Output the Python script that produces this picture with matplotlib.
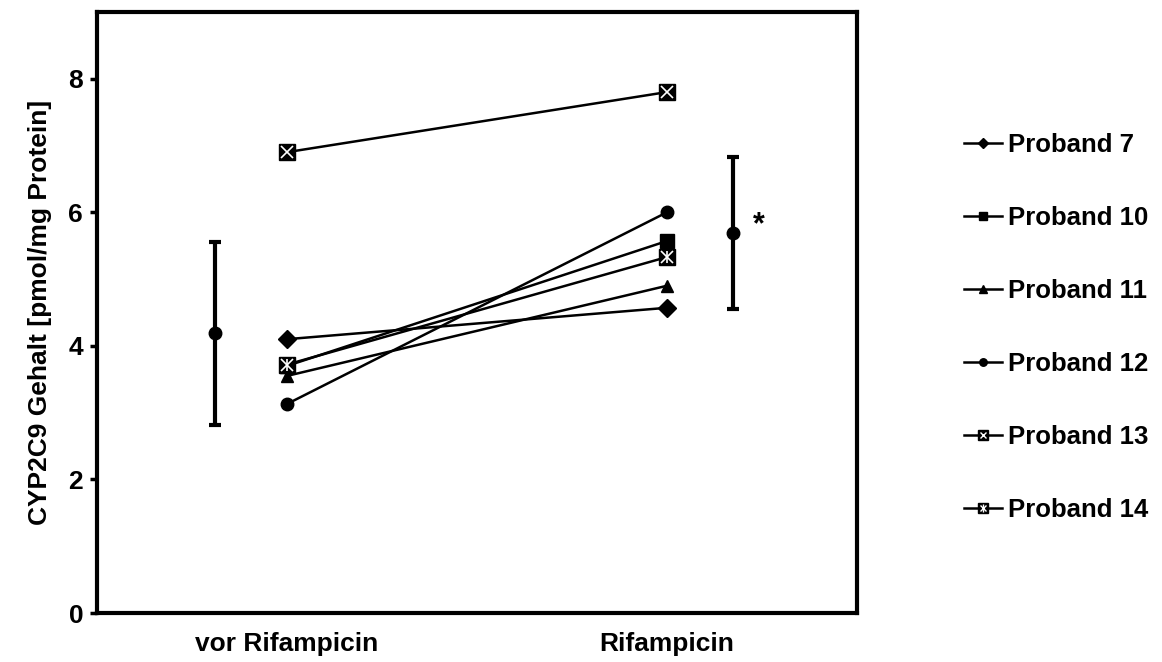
import matplotlib.pyplot as plt
from matplotlib.lines import Line2D
from matplotlib.legend_handler import HandlerTuple

plt.rcParams['font.family'] = ['Liberation Sans', 'DejaVu Sans']
plt.rcParams['font.weight'] = 'bold'

categories = ['vor Rifampicin', 'Rifampicin']
probanden = ['Proband 7', 'Proband 10', 'Proband 11', 'Proband 12', 'Proband 13', 'Proband 14']
vor = [4.10, 3.70, 3.55, 3.13, 6.90, 3.72]
nach = [4.57, 5.57, 4.90, 6.00, 7.80, 5.33]
markers = ['D', 's', '^', 'o', 's', 's']
overlay = [None, None, None, None, 'x', 'star']

mean_vor, sd_vor = 4.19, 1.37
mean_nach, sd_nach = 5.69, 1.14

fig = plt.figure(figsize=(11.62, 6.62), dpi=100)
ax = fig.add_axes([0.0835, 0.074, 0.654, 0.908])

x = [1, 2]
sizes = {'D': 9, 's': 10, '^': 9, 'o': 9}
handles = []
for name, a, b, m, ov in zip(probanden, vor, nach, markers, overlay):
    ms = sizes[m] if ov is None else 12
    ax.plot(x, [a, b], color='black', lw=1.8, marker=m, ms=ms, mfc='black', mec='black', zorder=3)
    h = Line2D([], [], color='black', lw=1.8, marker=m, ms=ms * 0.6, mfc='black', mec='black')
    if ov is None:
        handles.append(h)
        continue
    ax.plot(x, [a, b], ls='none', marker='x', ms=8, mec='white', mew=1.2, zorder=4)
    hx = Line2D([], [], ls='none', marker='x', ms=5, mec='white', mew=1)
    parts = [h, hx]
    if ov == 'star':
        ax.plot(x, [a, b], ls='none', marker='|', ms=9, mec='white', mew=1.2, zorder=4)
        parts.append(Line2D([], [], ls='none', marker='|', ms=6, mec='white', mew=1))
    handles.append(tuple(parts))

# Mittelwert +/- SD
ax.errorbar([0.81, 2.174], [mean_vor, mean_nach], yerr=[sd_vor, sd_nach], fmt='o', color='black',
            ms=9, elinewidth=3, capsize=4, capthick=3, zorder=3)
ax.text(2.242, 5.8, '*', fontsize=22, fontweight='bold', ha='center', va='center')

ax.set_xlim(0.5, 2.5)
ax.set_ylim(0, 9)
ax.set_yticks([0, 2, 4, 6, 8])
ax.set_xticks(x)
ax.set_xticklabels(categories, fontsize=19, fontweight='bold')
ax.tick_params(axis='x', length=0, pad=14)
ax.tick_params(axis='y', length=5, width=2.5, labelsize=19, pad=5)
for s in ax.spines.values():
    s.set_linewidth(3)
ax.set_ylabel('CYP2C9 Gehalt [pmol/mg Protein]', fontsize=19, fontweight='bold', labelpad=12)

fig.legend(handles, probanden, loc='center left', bbox_to_anchor=(0.8185, 0.505), frameon=False,
           labelspacing=1.91, handlelength=1.5, handletextpad=0.2, borderpad=0,
           handler_map={tuple: HandlerTuple(ndivide=1)}, prop={'weight': 'bold', 'size': 18.5})

plt.savefig('out.png', dpi=100)
